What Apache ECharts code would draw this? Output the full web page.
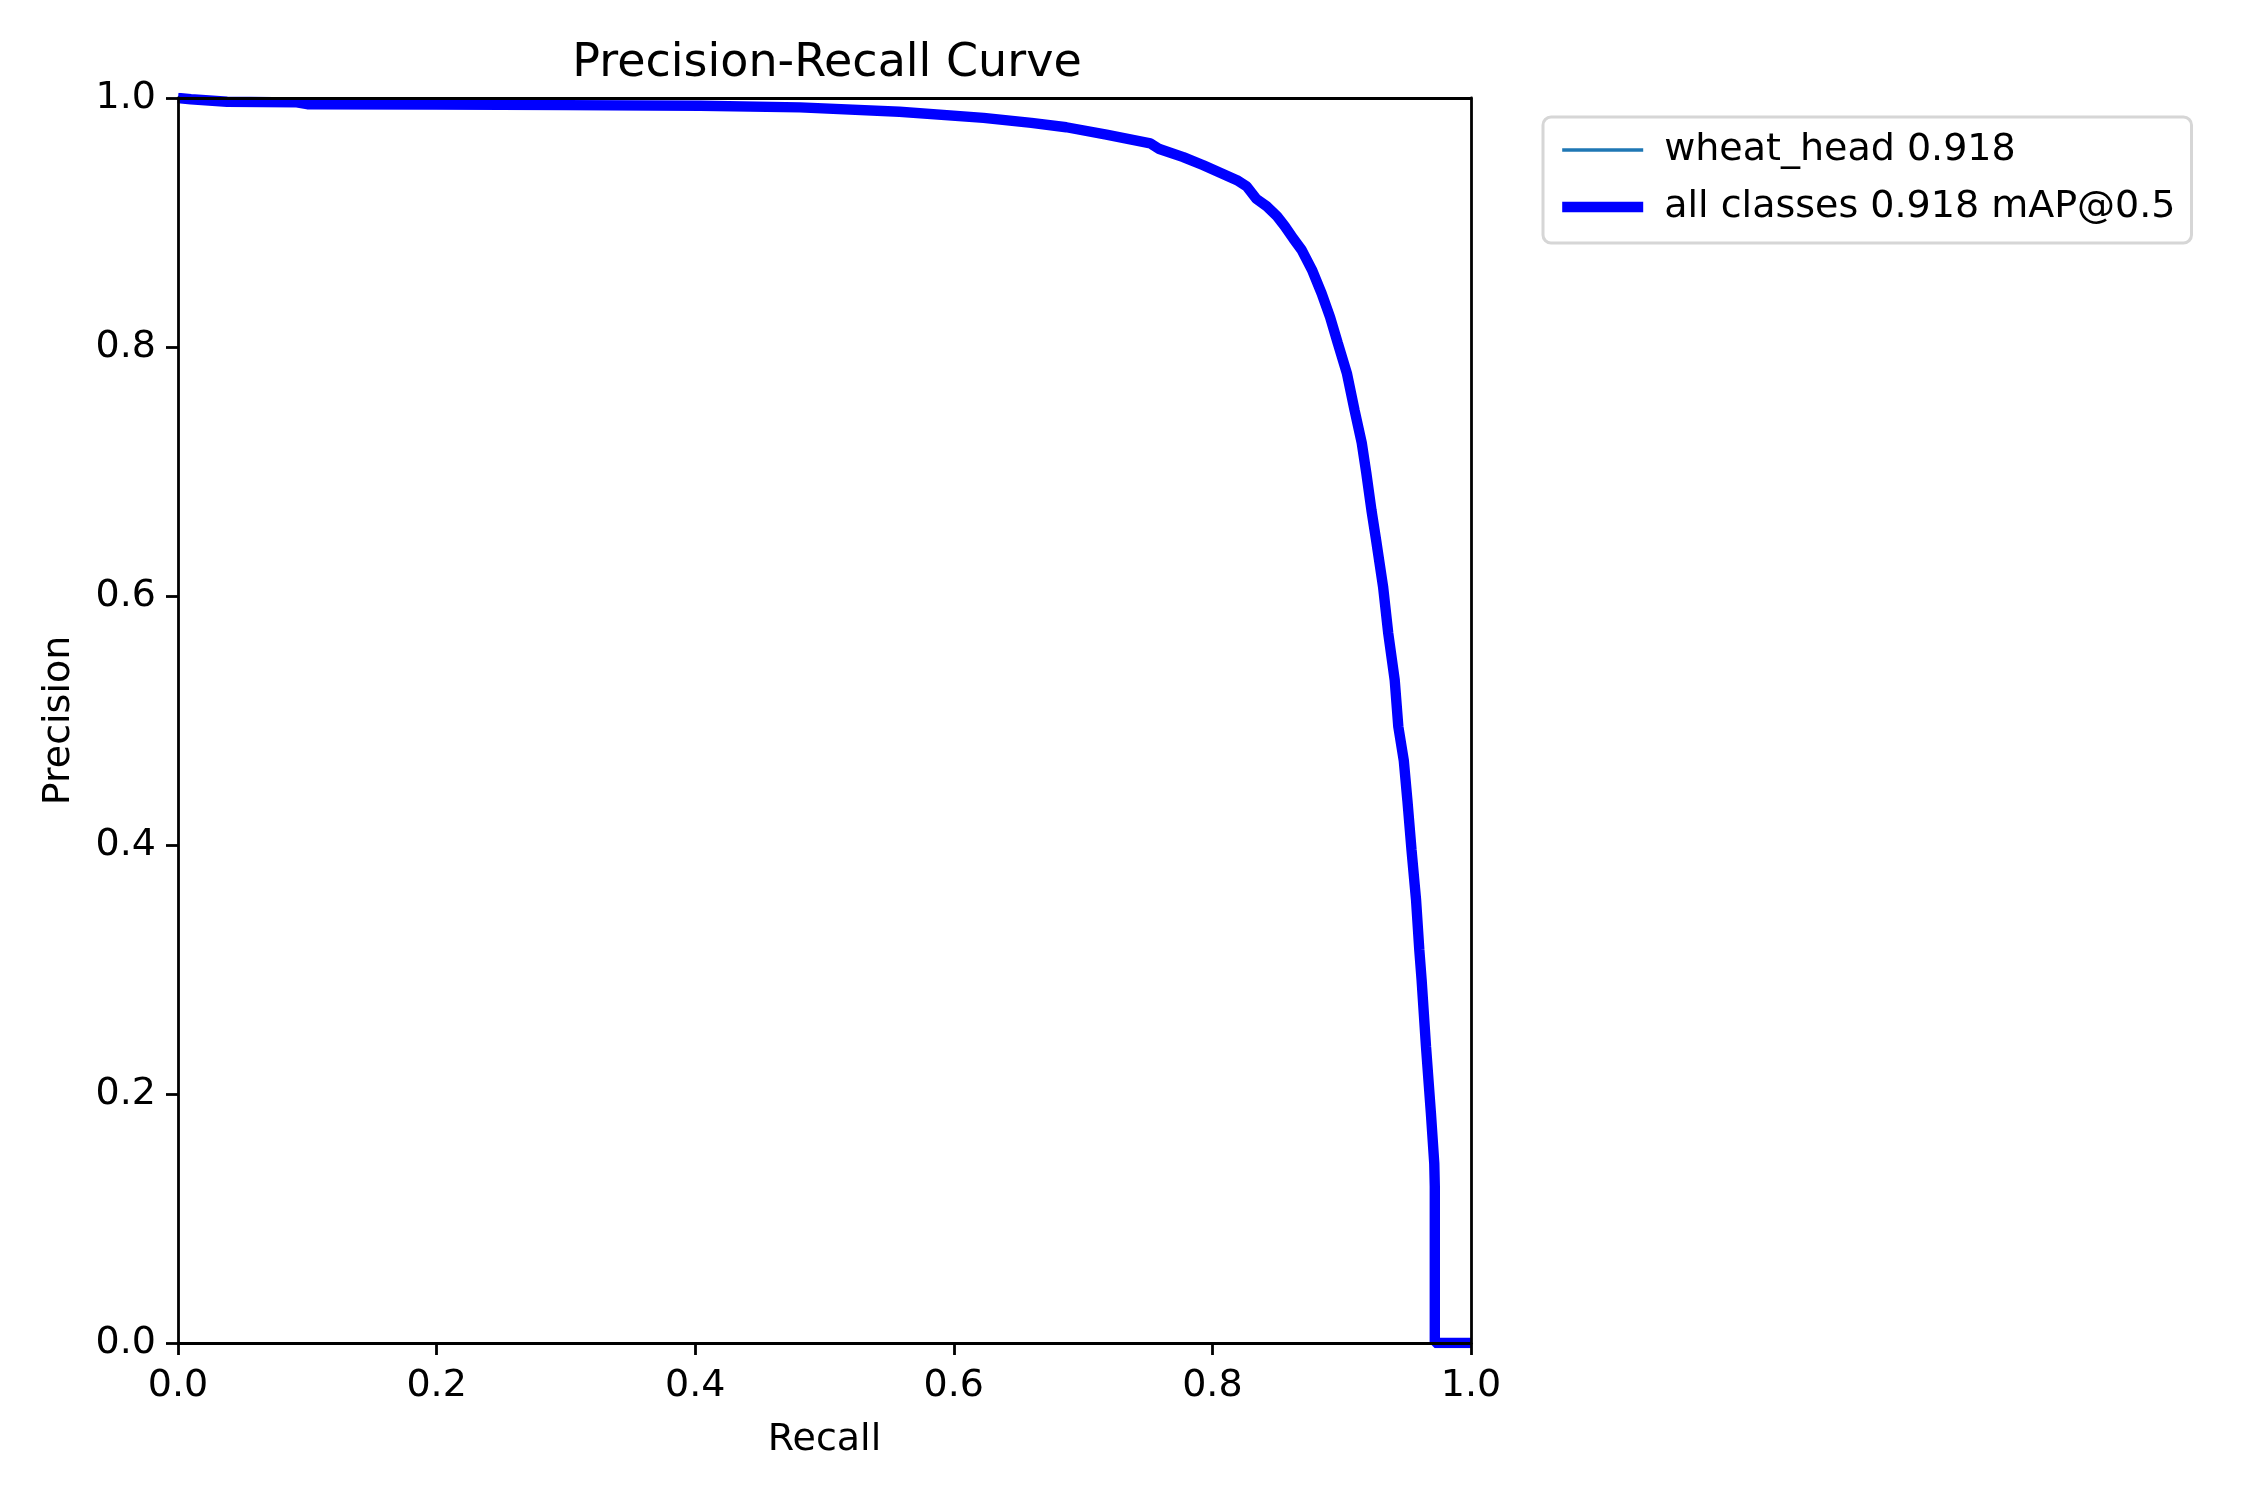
<!DOCTYPE html>
<html>
<head>
    <meta charset="utf-8">
    <style>
        body{
            margin:0;
            padding:0;
            background:#ffffff;
        }
        #chart{
            width:2250px;
            height:1500px;
        }
    </style>
</head>
<body>
    <div id="chart"></div>
    <script src="https://cdn.jsdelivr.net/npm/echarts@6/dist/echarts.min.js"></script>
    <script>
        // values
        var recall = [0, 0.01, 0.024, 0.038, 0.092, 0.1, 0.2, 0.3, 0.404, 0.481, 0.558, 0.623, 0.66, 0.687,
            0.718, 0.752, 0.759, 0.7775, 0.793, 0.806, 0.819, 0.8265, 0.834, 0.842, 0.85, 0.856, 0.8626,
            0.869, 0.877, 0.8845, 0.891, 0.897, 0.904, 0.91, 0.9155, 0.919, 0.923, 0.9266, 0.932, 0.936,
            0.941, 0.9438, 0.948, 0.9508, 0.954, 0.9575, 0.96, 0.9618, 0.9652, 0.969, 0.9716, 0.972, 0.972, 1.0];
        var precision = [1.0, 0.999, 0.998, 0.997, 0.9965, 0.995, 0.9948, 0.9943, 0.9938, 0.9925, 0.989, 0.984,
            0.980, 0.9765, 0.9705, 0.9636, 0.959, 0.9525, 0.946, 0.94, 0.934, 0.929, 0.919, 0.913, 0.905, 0.897,
            0.887, 0.878, 0.862, 0.843, 0.824, 0.803, 0.779, 0.749, 0.723, 0.699, 0.669, 0.645, 0.6075, 0.57,
            0.5325, 0.495, 0.468, 0.436, 0.396, 0.356, 0.316, 0.2916, 0.238, 0.1845, 0.144, 0.1255, 0, 0];
        var seriesNames = ["wheat_head 0.918", "all classes 0.918 mAP@0.5"];
        var axisTicks = [0, 0.2, 0.4, 0.6, 0.8, 1.0];
    </script>
    <script>
        var font = "DejaVu Sans";
        var fs = 38;
        var pts = [];
        for (var i = 0; i < recall.length; i++) {
            pts.push([recall[i], precision[i]]);
        }

        function mainAxis(pos, name, gap, labelGap) {
            return {
                type: "value",
                position: pos,
                min: axisTicks[0],
                max: axisTicks[axisTicks.length - 1],
                interval: 0.2,
                name: name,
                nameLocation: "middle",
                nameGap: gap,
                nameTextStyle: { fontFamily: font, fontSize: fs, color: "#000" },
                z: 10,
                axisLine: { show: true, lineStyle: { color: "#000", width: 2.8 } },
                axisTick: { show: true, inside: false, length: 12, lineStyle: { color: "#000", width: 2.8 } },
                axisLabel: {
                    show: true, margin: labelGap, fontFamily: font, fontSize: fs, color: "#000",
                    formatter: function (v) { return v.toFixed(1); }
                },
                splitLine: { show: false }
            };
        }
        function frameAxis(pos) {
            return {
                type: "value",
                position: pos,
                min: 0,
                max: 1,
                z: 10,
                axisLine: { show: true, onZero: false, lineStyle: { color: "#000", width: 2.8 } },
                axisTick: { show: false },
                axisLabel: { show: false },
                splitLine: { show: false }
            };
        }

        var chart = echarts.init(document.getElementById("chart"), null, { renderer: "canvas" });
        var option = {
            backgroundColor: "#ffffff",
            animation: false,
            title: {
                text: "Precision-Recall Curve",
                left: 822,
                top: 36,
                textAlign: "center",
                textStyle: { fontFamily: font, fontSize: 46, fontWeight: "normal", color: "#000" }
            },
            grid: { left: 178, top: 98, width: 1293, height: 1245 },
            legend: {
                left: 1543,
                top: 117,
                orient: "vertical",
                data: [
                    { name: seriesNames[0], itemStyle: { opacity: 0 }, lineStyle: { width: 3.5, color: "#1f77b4" } },
                    { name: seriesNames[1], itemStyle: { opacity: 0 }, lineStyle: { width: 10.4, color: "#0000ff" } }
                ],
                itemWidth: 81,
                itemHeight: 22,
                itemGap: 15,
                padding: [12, 16, 15, 14],
                backgroundColor: "#ffffff",
                borderColor: "#d6d6d6",
                borderWidth: 3,
                borderRadius: 8,
                textStyle: { fontFamily: font, fontSize: fs, color: "#000", lineHeight: 42, padding: [0, 0, 0, 16] }
            },
            xAxis: [mainAxis("bottom", "Recall", 78, 24), frameAxis("top")],
            yAxis: [mainAxis("left", "Precision", 100, 22), frameAxis("right")],
            series: [
                {
                    name: seriesNames[0],
                    type: "line",
                    data: pts,
                    showSymbol: false,
                    symbol: "none",
                    clip: true,
                    lineStyle: { color: "#1f77b4", width: 3.5 },
                    itemStyle: { color: "#1f77b4" }
                },
                {
                    name: seriesNames[1],
                    type: "line",
                    data: pts,
                    showSymbol: false,
                    symbol: "none",
                    clip: true,
                    lineStyle: { color: "#0000ff", width: 10.4 },
                    itemStyle: { color: "#0000ff" }
                }
            ]
        };
        chart.setOption(option);
    </script>
</body>
</html>
